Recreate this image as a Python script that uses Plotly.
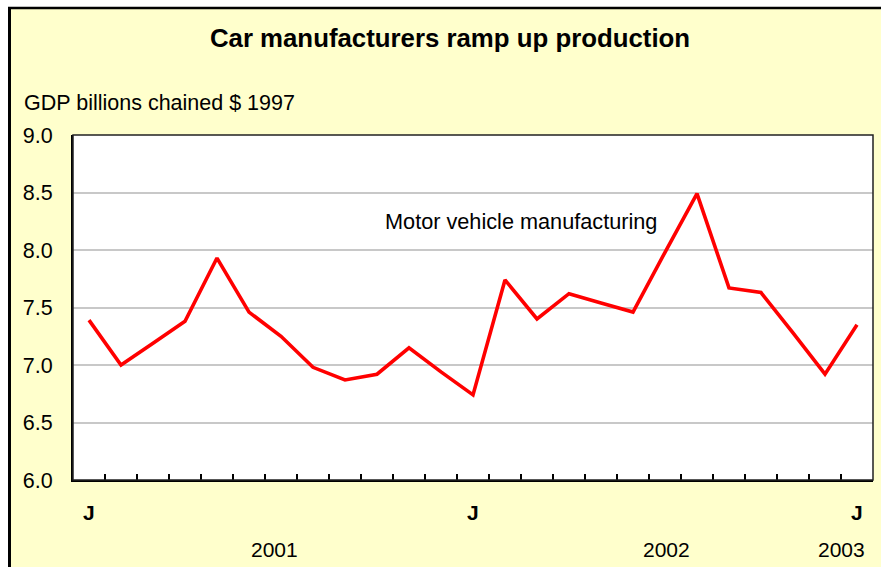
import plotly.graph_objects as go

# ---- data ----
months = ["2001-01", "2001-02", "2001-03", "2001-04", "2001-05", "2001-06",
          "2001-07", "2001-08", "2001-09", "2001-10", "2001-11", "2001-12",
          "2002-01", "2002-02", "2002-03", "2002-04", "2002-05", "2002-06",
          "2002-07", "2002-08", "2002-09", "2002-10", "2002-11", "2002-12",
          "2003-01"]
motor_vehicle = [7.39, 7.00, 7.19, 7.38, 7.93, 7.46, 7.25, 6.98, 6.87, 6.92,
                 7.15, 6.94, 6.74, 7.74, 7.40, 7.62, 7.54, 7.46, 7.98, 8.49,
                 7.67, 7.63, 7.28, 6.92, 7.35]
month_labels = {"2001-01": "J", "2002-01": "J", "2003-01": "J"}
year_labels = [("2001", 5.8), ("2002", 18.05), ("2003", 23.5)]
y_ticks = [6.0, 6.5, 7.0, 7.5, 8.0, 8.5, 9.0]

title_text = "Car manufacturers ramp up production"
y_title = "GDP billions chained $ 1997"
series_name = "Motor vehicle manufacturing"

FONT = "Liberation Sans, Arial, sans-serif"
YELLOW = "#FFFFCC"

idx = list(range(len(months)))

fig = go.Figure()
fig.add_trace(go.Scatter(
    x=idx, y=motor_vehicle, mode="lines", name=series_name,
    line=dict(color="#FF0000", width=3.6), hoverinfo="x+y", showlegend=False,
))

W, H = 881, 567
L, R, T, B = 73, 8, 135, 87
pw, ph = W - L - R, H - T - B


def px_x(p):
    return (p - L) / pw


def px_y(p):
    return (H - B - p) / ph


annotations = []
for i, m in enumerate(months):
    if m in month_labels:
        annotations.append(dict(
            x=i, xref="x", y=px_y(512), yref="paper", text=month_labels[m],
            showarrow=False, xanchor="center", yanchor="middle",
            font=dict(family=FONT, size=21, color="black", weight="bold")))
for txt, pos in year_labels:
    annotations.append(dict(
        x=pos, xref="x", y=px_y(549), yref="paper", text=txt,
        showarrow=False, xanchor="center", yanchor="middle",
        font=dict(family=FONT, size=21, color="black")))
annotations.append(dict(
    x=px_x(22), xref="paper", y=px_y(103), yref="paper", text=y_title,
    showarrow=False, xanchor="left", yanchor="middle",
    font=dict(family=FONT, size=21.5, color="black")))
annotations.append(dict(
    x=px_x(383), xref="paper", y=px_y(221), yref="paper", text=series_name,
    showarrow=False, xanchor="left", yanchor="middle",
    font=dict(family=FONT, size=21.7, color="black")))

shapes = [
    # white margins outside outer frame
    dict(type="rect", xref="paper", yref="paper", x0=px_x(-5), x1=px_x(8),
         y0=px_y(600), y1=px_y(-5), fillcolor="white", line=dict(width=0), layer="below"),
    dict(type="rect", xref="paper", yref="paper", x0=px_x(-5), x1=px_x(900),
         y0=px_y(7), y1=px_y(-5), fillcolor="white", line=dict(width=0), layer="below"),
    # outer frame lines
    dict(type="line", xref="paper", yref="paper", x0=px_x(9.5), x1=px_x(9.5),
         y0=px_y(8), y1=px_y(600), line=dict(color="black", width=3)),
    dict(type="line", xref="paper", yref="paper", x0=px_x(8), x1=px_x(900),
         y0=px_y(8), y1=px_y(8), line=dict(color="black", width=2.5)),
    # plot area border
    dict(type="rect", xref="paper", yref="paper", x0=0, x1=1, y0=0, y1=1,
         line=dict(color="#222222", width=1.5)),
]

fig.update_layout(
    width=W, height=H,
    margin=dict(l=L, r=R, t=T, b=B, pad=0),
    paper_bgcolor=YELLOW, plot_bgcolor="white",
    title=dict(text="<b>" + title_text + "</b>", x=450 / W, xref="container",
               xanchor="center", y=1 - 38 / H, yref="container", yanchor="middle",
               font=dict(family=FONT, size=25.8, color="black")),
    font=dict(family=FONT, color="black"),
    xaxis=dict(
        range=[-0.5, len(months) - 0.5], showgrid=False, zeroline=False,
        showline=True, linecolor="black", linewidth=2,
        tickmode="array", tickvals=[i - 0.5 for i in idx[1:]],
        ticks="inside", ticklen=6, tickwidth=1.5, tickcolor="black",
        showticklabels=False, fixedrange=True,
    ),
    yaxis=dict(
        range=[6, 9], tickmode="array", tickvals=y_ticks,
        ticktext=[f"{v:.1f}" for v in y_ticks],
        showgrid=True, gridcolor="#C8C8C8", gridwidth=1.5, zeroline=False,
        showline=True, linecolor="black", linewidth=2,
        ticks="", ticklabelstandoff=14,
        tickfont=dict(family=FONT, size=21.5, color="black"), fixedrange=True,
    ),
    annotations=annotations, shapes=shapes,
)

fig.write_html("out.html", config={"displayModeBar": False},
               post_script="document.body.style.margin='0';")
